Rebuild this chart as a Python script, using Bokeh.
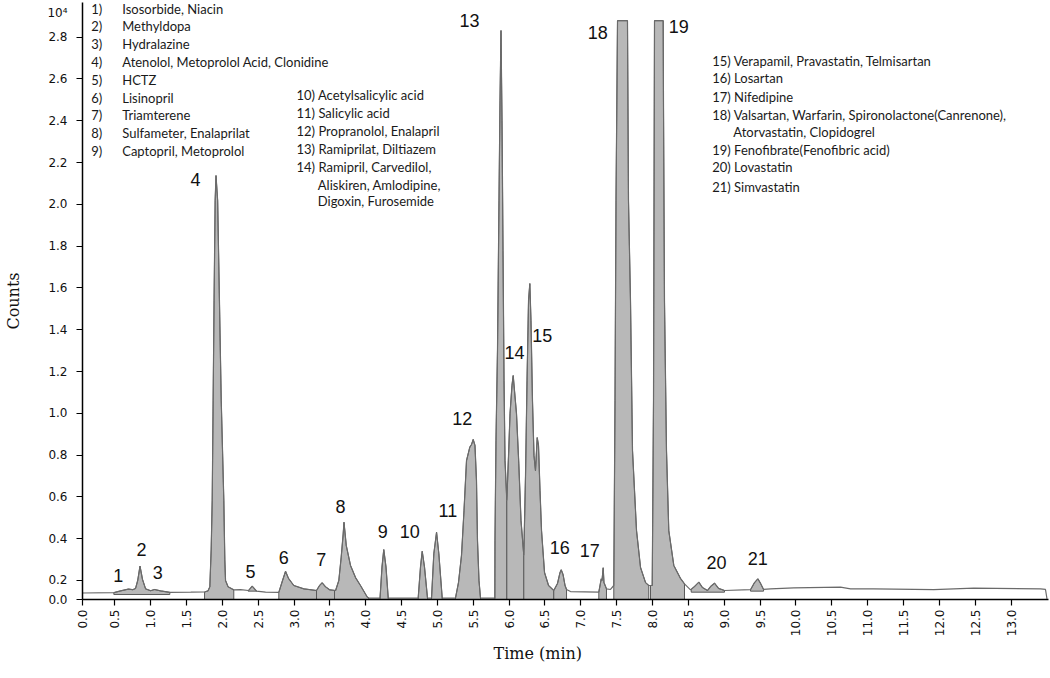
import math
import numpy as np
from bokeh.plotting import figure
from bokeh.models import Range1d, FixedTicker, PrintfTickFormatter, Title
from bokeh.core.properties import value
from bokeh.embed import file_html
from bokeh.resources import INLINE

# ---------------- data (counts in units of 10^4) ----------------
time_min = [
    0.05, 0.49, 0.58, 0.69, 0.75, 0.79, 0.82, 0.852, 0.887, 0.93, 1.00, 1.054, 1.14, 1.27, 1.56, 1.752,
    1.800, 1.826, 1.845, 1.859, 1.872, 1.885, 1.900, 1.912, 1.935, 1.960, 1.985, 2.021, 2.035, 2.045, 2.080, 2.160,
    2.254, 2.365, 2.417, 2.477, 2.603, 2.788,
    2.84, 2.882, 2.923, 2.997, 3.137, 3.314,
    3.356, 3.393, 3.439, 3.50, 3.58,
    3.625, 3.658, 3.686, 3.697, 3.729, 3.788, 3.858, 3.927, 4.021, 4.043,
    4.20, 4.227, 4.252, 4.283, 4.314,
    4.732, 4.764, 4.788, 4.820, 4.862,
    4.918, 4.950, 4.988, 5.020, 5.067,
    5.252, 5.294, 5.336, 5.371, 5.406, 5.452, 5.476, 5.499, 5.524, 5.545, 5.559, 5.580, 5.601,
    5.801, 5.803, 5.817, 5.838, 5.859, 5.873, 5.887, 5.901, 5.915, 5.929, 5.943, 5.968,
    5.992, 6.013, 6.040, 6.057, 6.075, 6.103, 6.135, 6.166, 6.205,
    6.229, 6.250, 6.271, 6.289, 6.305, 6.326, 6.347, 6.368, 6.392, 6.410, 6.431, 6.452, 6.494, 6.550, 6.623,
    6.675, 6.710, 6.727, 6.752, 6.780, 6.801, 6.856, 7.251,
    7.285, 7.296, 7.312, 7.323, 7.358, 7.414,
    7.460, 7.477, 7.491, 7.512, 7.651, 7.665, 7.693, 7.721, 7.777, 7.833, 7.903, 7.948,
    7.996, 8.014, 8.028, 8.149, 8.153, 8.167, 8.195, 8.227, 8.297, 8.390, 8.446, 8.530,
    8.586, 8.646, 8.697, 8.767, 8.809, 8.865, 8.921, 9.004, 9.367,
    9.423, 9.469, 9.507, 9.549,
    9.646, 9.971, 10.622, 10.762, 11.086, 11.923, 12.481, 13.411, 13.481, 13.502,
]
counts = [
    0.140, 0.142, 0.150, 0.159, 0.156, 0.162, 0.200, 0.269, 0.205, 0.160, 0.151, 0.157, 0.150, 0.143, 0.144, 0.145,
    0.150, 0.170, 0.350, 0.583, 1.061, 1.540, 2.018, 2.138, 2.018, 1.540, 1.061, 0.583, 0.300, 0.200, 0.170, 0.155,
    0.156, 0.152, 0.173, 0.149, 0.144, 0.143,
    0.200, 0.244, 0.210, 0.176, 0.160, 0.152,
    0.176, 0.189, 0.170, 0.155, 0.152,
    0.200, 0.311, 0.423, 0.479, 0.367, 0.272, 0.214, 0.176, 0.121, 0.116,
    0.116, 0.264, 0.348, 0.264, 0.116,
    0.116, 0.264, 0.340, 0.264, 0.116,
    0.116, 0.328, 0.431, 0.328, 0.116,
    0.116, 0.190, 0.320, 0.535, 0.774, 0.838, 0.851, 0.875, 0.846, 0.678, 0.391, 0.200, 0.116,
    0.116, 0.391, 0.870, 1.300, 2.018, 2.497, 2.832, 2.401, 1.779, 1.157, 0.774, 0.583,
    0.798, 0.999, 1.133, 1.181, 1.109, 0.999, 0.760, 0.487, 0.320,
    0.702, 1.157, 1.540, 1.621, 1.444, 1.061, 0.798, 0.726, 0.884, 0.846, 0.631, 0.439, 0.238, 0.176, 0.152,
    0.186, 0.238, 0.251, 0.229, 0.176, 0.157, 0.147, 0.144,
    0.208, 0.200, 0.261, 0.190, 0.160, 0.157,
    0.176, 1.061, 2.018, 2.879, 2.879, 2.018, 1.540, 0.822, 0.439, 0.262, 0.190, 0.176,
    0.176, 1.061, 2.879, 2.879, 2.497, 1.540, 0.822, 0.439, 0.272, 0.210, 0.184, 0.155,
    0.171, 0.192, 0.166, 0.152, 0.171, 0.187, 0.162, 0.152, 0.156,
    0.190, 0.208, 0.186, 0.157,
    0.160, 0.165, 0.168, 0.160, 0.160, 0.156, 0.163, 0.160, 0.157, 0.112,
]

# integration windows (start, end, baseline)
win_start = [0.487, 1.752, 2.360, 2.788, 3.314, 3.565, 4.200, 4.732, 4.918, 5.252, 5.801, 5.968, 6.205, 6.623,
             7.251, 7.460, 7.972, 8.540, 9.367]
win_end = [1.268, 2.160, 2.480, 3.314, 3.565, 4.043, 4.314, 4.862, 5.067, 5.601, 5.968, 6.205, 6.623, 6.801,
           7.358, 7.948, 8.446, 9.004, 9.549]
win_base = [0.133, 0.109, 0.149, 0.109, 0.109, 0.109, 0.109, 0.109, 0.109, 0.109, 0.109, 0.109, 0.109, 0.109,
            0.109, 0.109, 0.109, 0.144, 0.149]

peak_ids = [str(i) for i in range(1, 22)]

x_ticks = [0.05] + [0.5 * i for i in range(1, 27)]
y_ticks = [0.109] + [0.2 * i for i in range(1, 15)]
y_exp_tick = 2.918

legend_col1_nums = ["1)", "2)", "3)", "4)", "5)", "6)", "7)", "8)", "9)"]
legend_col1_names = ["Isosorbide, Niacin", "Methyldopa", "Hydralazine", "Atenolol, Metoprolol Acid, Clonidine",
                     "HCTZ", "Lisinopril", "Triamterene", "Sulfameter, Enalaprilat", "Captopril, Metoprolol"]
legend_col2 = ["10) Acetylsalicylic acid", "11) Salicylic acid", "12) Propranolol, Enalapril",
               "13) Ramiprilat, Diltiazem", "14) Ramipril, Carvedilol,", "Aliskiren, Amlodipine,",
               "Digoxin, Furosemide"]
legend_col3 = ["15) Verapamil, Pravastatin, Telmisartan", "16) Losartan", "17) Nifedipine",
               "18) Valsartan, Warfarin, Spironolactone(Canrenone),", "Atorvastatin, Clopidogrel",
               "19) Fenofibrate(Fenofibric acid)", "20) Lovastatin", "21)  Simvastatin"]

# ---------------- annotation layout (data coordinates) ----------------
peak_label_x = [0.548, 0.873, 1.100, 1.626, 2.393, 2.858, 3.379, 3.649, 4.238, 4.615, 5.145, 5.346, 5.448,
                6.075, 6.462, 6.707, 7.126, 7.237, 8.367, 8.893, 9.469]
peak_label_y = [0.224, 0.347, 0.240, 2.120, 0.244, 0.309, 0.300, 0.554, 0.436, 0.436, 0.535, 0.974, 2.879,
                1.292, 1.372, 0.359, 0.344, 2.823, 2.851, 0.288, 0.304]

col1_num_x, col1_name_x = 0.172, 0.604
col1_y = [2.937 - 0.0852 * i for i in range(9)]
col2_x = [3.035] * 5 + [3.332] * 2
col2_y = [2.521, 2.436, 2.353, 2.266, 2.181, 2.095, 2.015]
col3_x = [8.833] * 4 + [9.126] + [8.833] * 3
col3_y = [2.688, 2.603, 2.516, 2.430, 2.348, 2.261, 2.178, 2.082]

# ---------------- figure ----------------
p = figure(width=1050, height=678, x_range=Range1d(0.05, 13.523), y_range=Range1d(0.109, 2.966),
           output_backend="svg", toolbar_location=None,
           min_border_left=82, min_border_right=2, min_border_top=2, min_border_bottom=79)
p.outline_line_color = None
p.grid.visible = False
p.background_fill_color = "white"
p.border_fill_color = "white"

t = np.array(time_min)
c = np.array(counts)

xs, ys = [], []
for s, e, b in zip(win_start, win_end, win_base):
    m = (t > s) & (t < e)
    cs, ce = float(np.interp(s, t, c)), float(np.interp(e, t, c))
    xs.append([s, s] + list(t[m]) + [e, e])
    ys.append([b, cs] + list(c[m]) + [ce, b])
p.patches(xs, ys, fill_color="#b8b8b8", line_color="#5a5a5a", line_width=1)

p.line(time_min, counts, line_color="#6a6a6a", line_width=1.2)

p.text(x=peak_label_x, y=peak_label_y, text=peak_ids, text_font=value("Liberation Sans"),
       text_font_size="18px", text_align="center", text_baseline="middle", text_color="#111111")

lg_font = value("Lato")
lg_size = "13px"
p.text(x=[col1_num_x] * 9, y=col1_y, text=legend_col1_nums, text_font=lg_font, text_font_size=lg_size,
       text_baseline="middle", text_color="#1a1a1a")
p.text(x=[col1_name_x] * 9, y=col1_y, text=legend_col1_names, text_font=lg_font, text_font_size=lg_size,
       text_baseline="middle", text_color="#1a1a1a")
p.text(x=col2_x, y=col2_y, text=legend_col2, text_font=lg_font, text_font_size=lg_size,
       text_baseline="middle", text_color="#1a1a1a")
p.text(x=col3_x, y=col3_y, text=legend_col3, text_font=lg_font, text_font_size=lg_size,
       text_baseline="middle", text_color="#1a1a1a")

# axes
for ax in (p.xaxis, p.yaxis):
    ax.axis_line_color = "black"
    ax.axis_line_width = 1.5
    ax.major_label_text_font = "DejaVu Sans"
    ax.major_label_text_font_size = "12px"
    ax.major_label_text_color = "#111111"
    ax.formatter = PrintfTickFormatter(format="%.1f")
    ax.axis_label_text_font = "DejaVu Serif"
    ax.axis_label_text_font_size = "16px"
    ax.axis_label_text_font_style = "normal"
    ax.axis_label_text_color = "#111111"

p.xaxis.ticker = FixedTicker(ticks=x_ticks)
p.xaxis.major_tick_line_color = "black"
p.xaxis.major_tick_line_width = 1.2
p.xaxis.major_tick_out = 6
p.xaxis.major_tick_in = 0
p.xaxis.minor_tick_line_color = None
p.xaxis.major_label_overrides = {0.05: "0.0"}
p.xaxis.major_label_orientation = math.pi / 2
p.xaxis.major_label_standoff = 4

# y ticks: marks drawn as "minor" ticks so the 10^4 exponent label carries no tick mark
p.yaxis.ticker = FixedTicker(ticks=y_ticks + [y_exp_tick], minor_ticks=y_ticks)
p.yaxis.major_tick_out = 0
p.yaxis.major_tick_in = 0
p.yaxis.minor_tick_out = 6
p.yaxis.minor_tick_in = 0
p.yaxis.minor_tick_line_color = "black"
p.yaxis.minor_tick_line_width = 1.2
p.yaxis.major_label_standoff = 9
p.yaxis.major_label_overrides = {0.109: "0.0", y_exp_tick: "10⁴"}
p.yaxis.axis_label = "Counts"
p.yaxis.axis_label_standoff = 21

p.add_layout(Title(text="Time (min)", align="left", offset=411, text_font="DejaVu Serif",
                   text_font_size="16px", text_font_style="normal", text_color="#111111",
                   standoff=4), "below")

open("out.html", "w").write(file_html(p, INLINE))
